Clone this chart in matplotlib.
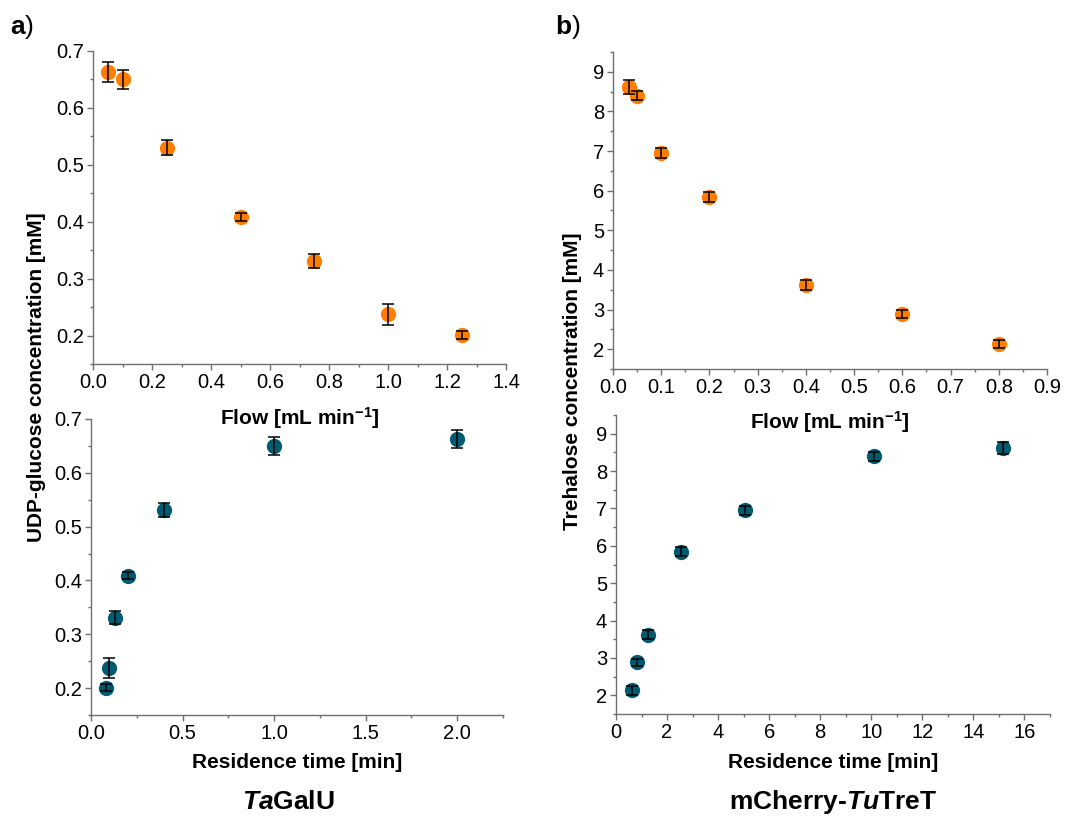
import numpy as np
import matplotlib
matplotlib.use("Agg")
import matplotlib.pyplot as plt
from matplotlib.ticker import MultipleLocator, AutoMinorLocator, FormatStrFormatter

# ==========================
# Datos
# ==========================
# a) TaGalU
galu_flow = [0.05, 0.10, 0.25, 0.50, 0.75, 1.00, 1.25]
galu_time = [2.0, 1.0, 0.4, 0.2, 0.133, 0.10, 0.08]
galu_conc = [0.663, 0.650, 0.530, 0.409, 0.331, 0.237, 0.201]
galu_err = [0.017, 0.017, 0.013, 0.007, 0.012, 0.018, 0.007]

# b) mCherry-TuTreT
tret_flow = [0.033, 0.05, 0.10, 0.20, 0.40, 0.60, 0.80]
tret_time = [15.15, 10.1, 5.05, 2.53, 1.26, 0.84, 0.63]
tret_conc = [8.62, 8.40, 6.95, 5.84, 3.62, 2.88, 2.13]
tret_err = [0.17, 0.12, 0.12, 0.12, 0.12, 0.10, 0.11]

orange = "#FF7D00"
teal = "#005A70"
spine_gray = "#707070"

plt.rcParams["font.family"] = ["Liberation Sans", "DejaVu Sans"]
plt.rcParams["mathtext.fontset"] = "custom"
plt.rcParams["mathtext.rm"] = "Liberation Sans"
plt.rcParams["mathtext.bf"] = "Liberation Sans:bold"
plt.rcParams["mathtext.it"] = "Liberation Sans:italic:bold"
plt.rcParams["mathtext.default"] = "bf"

W, H = 1072, 819
fig = plt.figure(figsize=(W / 100, H / 100), dpi=100)


def px_box(x0, x1, y0, y1):
    # caja en píxeles (y desde arriba) -> fracción de figura
    return [x0 / W, 1 - y1 / H, (x1 - x0) / W, (y1 - y0) / H]


def style_axes(ax, xlim, ylim, xmaj, ymaj):
    ax.set_xlim(*xlim)
    ax.set_ylim(*ylim)
    ax.xaxis.set_major_locator(MultipleLocator(xmaj))
    ax.yaxis.set_major_locator(MultipleLocator(ymaj))
    ax.xaxis.set_minor_locator(AutoMinorLocator(2))
    ax.yaxis.set_minor_locator(AutoMinorLocator(2))
    for s in ["top", "right"]:
        ax.spines[s].set_visible(False)
    for s in ["left", "bottom"]:
        ax.spines[s].set_color(spine_gray)
        ax.spines[s].set_linewidth(1.0)
    ax.tick_params(which="major", direction="out", length=4.5, width=1.0,
                   color=spine_gray, labelsize=14.5, pad=2)
    ax.tick_params(which="minor", direction="out", length=2.5, width=1.0,
                   color=spine_gray)


def draw(ax, x, y, err, color):
    ax.plot(x, y, "o", color=color, markersize=11, markeredgewidth=0,
            zorder=2, clip_on=False)
    ax.errorbar(x, y, yerr=err, fmt="none", ecolor="black", elinewidth=1.1,
                capsize=4.5, capthick=1.1, zorder=3, clip_on=False)


# a) arriba: flujo
ax1 = fig.add_axes(px_box(93, 506, 51, 364))
draw(ax1, galu_flow, galu_conc, galu_err, orange)
style_axes(ax1, (0, 1.4), (0.15, 0.7), 0.2, 0.1)
ax1.xaxis.set_major_formatter(FormatStrFormatter("%.1f"))
ax1.yaxis.set_major_formatter(FormatStrFormatter("%.1f"))

# a) abajo: tiempo de residencia
ax2 = fig.add_axes(px_box(91, 503, 419, 715))
draw(ax2, galu_time, galu_conc, galu_err, teal)
style_axes(ax2, (0, 2.25), (0.15, 0.7), 0.5, 0.1)
ax2.xaxis.set_major_formatter(FormatStrFormatter("%.1f"))
ax2.yaxis.set_major_formatter(FormatStrFormatter("%.1f"))

# b) arriba: flujo
ax3 = fig.add_axes(px_box(613, 1047, 52, 369))
draw(ax3, tret_flow, tret_conc, tret_err, orange)
style_axes(ax3, (0, 0.9), (1.5, 9.5), 0.1, 1)
ax3.xaxis.set_major_formatter(FormatStrFormatter("%.1f"))

# b) abajo: tiempo de residencia
ax4 = fig.add_axes(px_box(616, 1050, 415, 714))
draw(ax4, tret_time, tret_conc, tret_err, teal)
style_axes(ax4, (0, 17), (1.5, 9.5), 2, 1)

# ==========================
# Textos
# ==========================
def ftext(x, y, s, **kw):
    fig.text(x / W, 1 - y / H, s, **kw)


lab = dict(fontsize=15, fontweight="bold", ha="center", va="center")
ftext(300, 418, r"Flow [mL min$^{-1}$]", **lab)
ftext(830, 422, r"Flow [mL min$^{-1}$]", **lab)
ftext(297, 763, "Residence time [min]", **lab)
ftext(833, 763, "Residence time [min]", **lab)
ftext(37, 377, "UDP-glucose concentration [mM]", rotation=90, **lab)
ftext(572, 381, "Trehalose concentration [mM]", rotation=90, **lab)

tit = dict(fontsize=19, fontweight="bold", ha="center", va="center")
ftext(288, 802, r"$\mathit{Ta}$GalU", **tit)
ftext(833, 802, r"mCherry-$\mathit{Tu}$TreT", **tit)

pan = dict(fontsize=19, ha="left", va="center")
ftext(10, 27, r"$\mathbf{a}$)", **pan)
ftext(555, 27, r"$\mathbf{b}$)", **pan)

fig.savefig("out.png", dpi=100)
